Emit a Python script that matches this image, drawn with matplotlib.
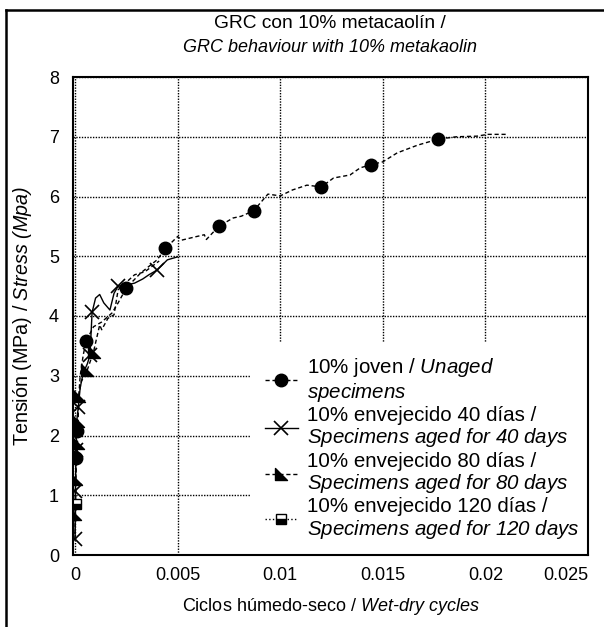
import matplotlib
matplotlib.use("Agg")
import matplotlib.pyplot as plt
from matplotlib.path import Path
from matplotlib.lines import Line2D

plt.rcParams['font.family'] = ['Liberation Sans', 'DejaVu Sans']
plt.rcParams['mathtext.fontset'] = 'custom'
# italic for both so digits / parentheses inside \mathit stay italic
plt.rcParams['mathtext.rm'] = 'Liberation Sans:italic'
plt.rcParams['mathtext.it'] = 'Liberation Sans:italic'
plt.rcParams['mathtext.bf'] = 'Liberation Sans:bold'

# ---------------- data ----------------
x_ticks = [0, 0.005, 0.01, 0.015, 0.02, 0.025]
x_tick_labels = ["0", "0.005", "0.01", "0.015", "0.02", "0.025"]
y_ticks = [0, 1, 2, 3, 4, 5, 6, 7, 8]

# 10% joven / Unaged specimens
joven_x = [0.00000, 0.00002, 0.00003, 0.00005, 0.00008, 0.00010, 0.00015, 0.00025,
           0.00040, 0.00054, 0.0009, 0.0013, 0.0018, 0.0021, 0.0025, 0.0032,
           0.0040, 0.0044, 0.0050, 0.0052, 0.0058, 0.0063, 0.0064, 0.0070,
           0.0077, 0.0081, 0.0087, 0.0094, 0.0100, 0.0106, 0.0113, 0.0120,
           0.0126, 0.0134, 0.0139, 0.0144, 0.0150, 0.0157, 0.0167, 0.0177,
           0.0186, 0.0196, 0.0201, 0.0210]
joven_y = [0.35, 0.80, 1.20, 1.62, 1.85, 2.07, 2.50, 3.00,
           3.35, 3.58, 3.82, 3.90, 4.05, 4.22, 4.47, 4.72,
           4.94, 5.13, 5.33, 5.27, 5.32, 5.36, 5.28, 5.50,
           5.64, 5.67, 5.76, 6.04, 6.01, 6.11, 6.19, 6.16,
           6.31, 6.36, 6.48, 6.53, 6.58, 6.73, 6.86, 6.96,
           7.00, 7.01, 7.04, 7.04]
joven_marks = [3, 5, 9, 14, 17, 23, 26, 31, 35, 39]

# 10% envejecido 40 días / Specimens aged for 40 days
d40_x = [0.00000, 0.00001, 0.00002, 0.00003, 0.00005, 0.00007, 0.00010, 0.00016,
         0.00025, 0.00040, 0.00060, 0.00073, 0.00083, 0.0010, 0.0012, 0.0014,
         0.0017, 0.0019, 0.0021, 0.0025, 0.0029, 0.0033, 0.0036, 0.0040,
         0.0045, 0.0050]
d40_y = [0.26, 0.65, 1.07, 1.40, 1.75, 2.10, 2.30, 2.48,
         2.80, 3.05, 3.20, 3.35, 4.06, 4.30, 4.36, 4.22,
         4.10, 4.38, 4.50, 4.52, 4.55, 4.62, 4.69, 4.77,
         4.94, 4.99]
d40_marks = [0, 2, 4, 7, 11, 12, 18, 23]

# 10% envejecido 80 días / Specimens aged for 80 days
d80_x = [0.00001, 0.00002, 0.00003, 0.00008, 0.00012, 0.00015, 0.00018, 0.00030,
         0.00060, 0.00090, 0.0012, 0.0013, 0.0016, 0.0019, 0.0021, 0.0029,
         0.0034, 0.0041]
d80_y = [0.68, 1.00, 1.27, 1.60, 1.87, 2.24, 2.66, 2.90,
         3.10, 3.40, 3.85, 3.77, 3.96, 4.02, 4.44, 4.69,
         4.74, 4.92]
d80_marks = [0, 2, 4, 5, 6, 8, 9]

# 10% envejecido 120 días / Specimens aged for 120 days
d120_x = [0.00000, 0.00001, 0.00002, 0.00002, 0.00003, 0.00003, 0.00004]
d120_y = [0.30, 0.45, 0.55, 0.65, 0.75, 0.86, 0.95]
d120_marks = [5]

labels = [
    "10% joven / $\\mathit{Unaged}$\n$\\mathit{specimens}$",
    "10% envejecido 40 días /\n$\\mathit{Specimens\\ aged\\ for\\ 40\\ days}$",
    "10% envejecido 80 días /\n$\\mathit{Specimens\\ aged\\ for\\ 80\\ days}$",
    "10% envejecido 120 días /\n$\\mathit{Specimens\\ aged\\ for\\ 120\\ days}$",
]

# ---------------- figure ----------------
W, H = 604, 627
fig = plt.figure(figsize=(W / 100, H / 100), dpi=100)
ax = fig.add_axes([73 / W, 1 - 555 / H, 515 / W, 478 / H])

tri = Path([(-1, 1), (-1, -1), (1, -1), (-1, 1)],
           [Path.MOVETO, Path.LINETO, Path.LINETO, Path.CLOSEPOLY])

dash = (0, (3, 2))
l1, = ax.plot(joven_x, joven_y, color='black', lw=1.0, linestyle=dash,
              marker='o', markersize=9, markevery=joven_marks, zorder=2)
l2, = ax.plot(d40_x, d40_y, color='black', lw=1.0, linestyle='-',
              marker='x', markersize=10, markeredgewidth=1.2, markevery=d40_marks, zorder=2)
l3, = ax.plot(d80_x, d80_y, color='black', lw=1.0, linestyle=dash,
              marker=tri, markersize=8, markevery=d80_marks, zorder=2)
l4, = ax.plot(d120_x, d120_y, color='black', lw=1.0, linestyle=':',
              marker='s', markersize=7, fillstyle='bottom', markerfacecoloralt='white',
              markevery=d120_marks, zorder=2)

ax.set_xlim(-0.0001, 0.025)
ax.set_ylim(0, 8)
ax.set_xticks(x_ticks)
ax.set_xticklabels(x_tick_labels)
ax.set_yticks(y_ticks)
ax.tick_params(length=0, labelsize=13, pad=9)
ax.tick_params(axis='y', pad=10)
ax.xaxis.get_ticklabels()[-1].set_horizontalalignment('right')
ax.grid(True, color='black', linestyle=(0, (1, 1)), lw=1.0)
for s in ax.spines.values():
    s.set_linewidth(1.5)
    s.set_color('black')
    s.set_zorder(3)

leg = ax.legend([l1, l2, l3, l4], labels, loc='lower right',
                bbox_to_anchor=(1 + 6 / 515, 0),
                borderaxespad=0, fontsize=14.8, frameon=True, fancybox=False,
                framealpha=1, facecolor='white', edgecolor='none',
                labelspacing=0.12, handlelength=1.6, handletextpad=0.45,
                borderpad=0.7)
leg.set_zorder(2.5)
for t in leg.get_texts():
    t.set_linespacing(1.07)

ax.set_xlabel("Ciclos húmedo-seco / $\\mathit{Wet\u2010dry\\ cycles}$", fontsize=13, labelpad=8)
ax.set_ylabel("Tensión (MPa) / $\\mathit{Stress\\ (Mpa)}$", fontsize=14.2, labelpad=11)

fig.text(330 / W, 1 - 24 / H, "GRC con 10% metacaolín /", ha='center', va='center', fontsize=13.8)
fig.text(330 / W, 1 - 47 / H, "GRC behaviour with 10% metakaolin", ha='center', va='center',
         fontsize=13, style='italic')

# outer frame (cut on right and bottom)
fig.add_artist(Line2D([6 / W, 1.0], [1 - 9.5 / H, 1 - 9.5 / H], color='black', lw=1.8,
                      transform=fig.transFigure))
fig.add_artist(Line2D([6 / W, 6 / W], [0, 1 - 9.5 / H], color='black', lw=1.8,
                      transform=fig.transFigure))

fig.savefig("out.png", dpi=100)
